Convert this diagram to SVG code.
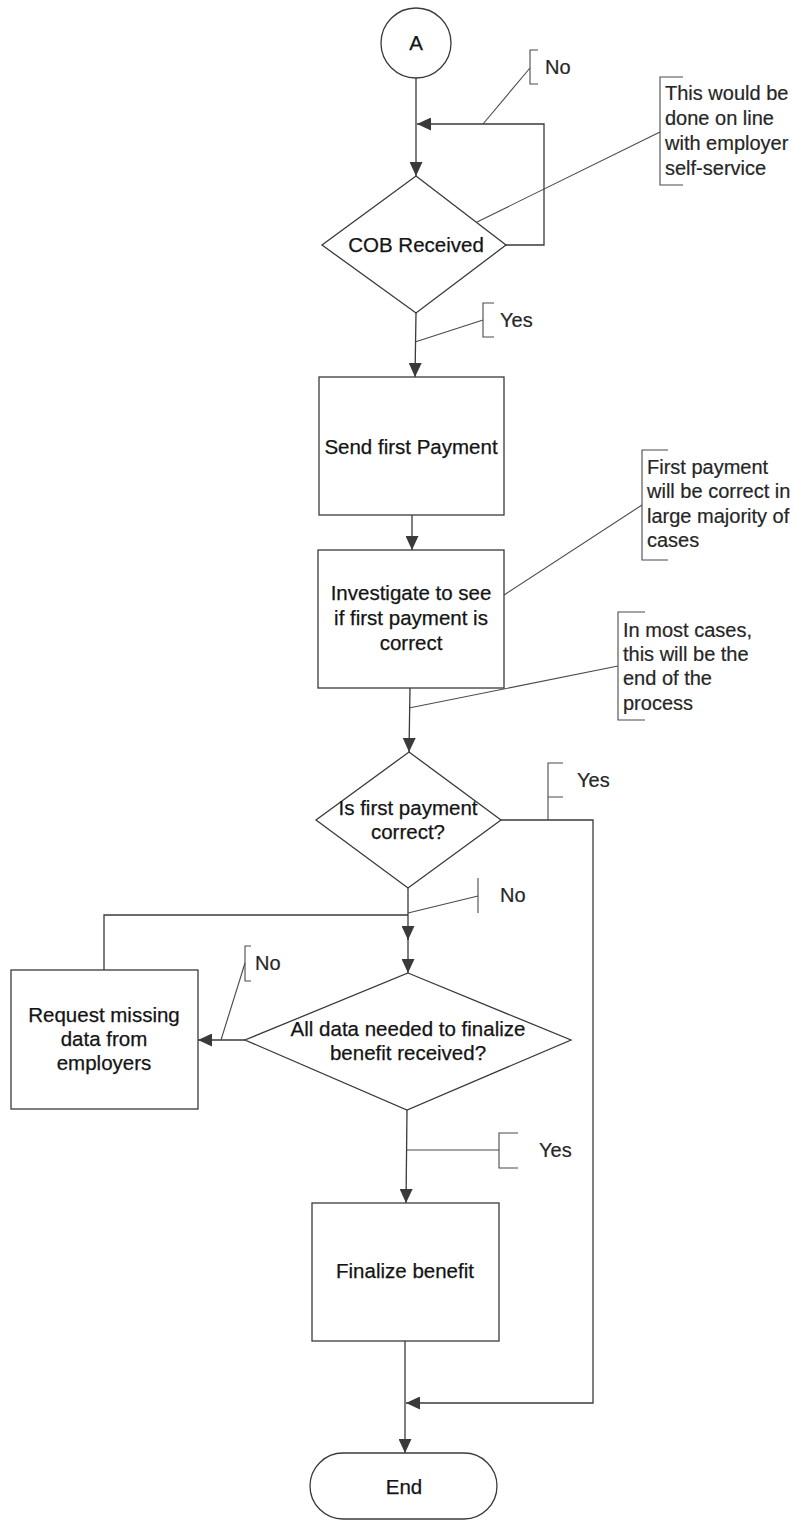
<svg xmlns="http://www.w3.org/2000/svg" width="794" height="1520" viewBox="0 0 794 1520">
  <defs>
    <marker id="arrow" markerUnits="userSpaceOnUse" markerWidth="15" markerHeight="13" refX="14" refY="6.5" orient="auto">
      <path d="M0,0 L14,6.5 L0,13 z" fill="#3a3a3a"/>
    </marker>
    <style>
      .shape { fill: #ffffff; stroke: #3a3a3a; stroke-width: 1.3; }
      .line { fill: none; stroke: #3a3a3a; stroke-width: 1.3; }
      .thin { fill: none; stroke: #4a4a4a; stroke-width: 1.1; }
      .lbl { font-family: "Liberation Sans", Arial, sans-serif; font-size: 20.5px; fill: #141414; text-anchor: middle; stroke: #141414; stroke-width: 0.25; }
      .note { font-family: "Liberation Sans", Arial, sans-serif; font-size: 20px; fill: #262626; stroke: #262626; stroke-width: 0.2; }
    </style>
  </defs>
  <rect width="794" height="1520" fill="#ffffff"/>

  <!-- flow connectors -->
  <g id="connectors">
    <path class="line" d="M416,78 L416,176" marker-end="url(#arrow)"/>
    <path class="line" d="M506,245 L544,245 L544,124 L417,124" marker-end="url(#arrow)"/>
    <path class="line" d="M416,313 L415,377" marker-end="url(#arrow)"/>
    <path class="line" d="M412,515 L412,550" marker-end="url(#arrow)"/>
    <path class="line" d="M410,688 L409,752" marker-end="url(#arrow)"/>
    <path class="line" d="M501,820 L593,820 L593,1403 L406,1403" marker-end="url(#arrow)"/>
    <path class="line" d="M408,888 L408,940" marker-end="url(#arrow)"/>
    <path class="line" d="M408,938 L408,973" marker-end="url(#arrow)"/>
    <path class="line" d="M104,970 L104,915 L408,915"/>
    <path class="line" d="M245,1040 L198,1040" marker-end="url(#arrow)"/>
    <path class="line" d="M407,1110 L406,1203" marker-end="url(#arrow)"/>
    <path class="line" d="M405,1341 L405,1453" marker-end="url(#arrow)"/>
  </g>

  <!-- branch labels and side notes with their leaders -->
  <g id="annotations">
    <path class="thin" d="M483,124 L530,68"/>
    <path class="thin" d="M538,50 L530,50 L530,84 L538,84"/>
    <text class="note" x="545" y="74">No</text>

    <path class="thin" d="M477,222 L660,132"/>
    <path class="thin" d="M683,77 L660,77 L660,185 L683,185"/>
    <text class="note" x="665" y="100">This would be</text>
    <text class="note" x="665" y="125">done on line</text>
    <text class="note" x="665" y="150">with employer</text>
    <text class="note" x="665" y="175">self-service</text>

    <path class="thin" d="M415,342 L483,320"/>
    <path class="thin" d="M494,303 L483,303 L483,337 L494,337"/>
    <text class="note" x="500" y="327">Yes</text>

    <path class="thin" d="M504,595 L642,505"/>
    <path class="thin" d="M668,450 L642,450 L642,560 L668,560"/>
    <text class="note" x="647" y="474">First payment</text>
    <text class="note" x="647" y="498">will be correct in</text>
    <text class="note" x="647" y="523">large majority of</text>
    <text class="note" x="647" y="547">cases</text>

    <path class="thin" d="M409,708 L618,666"/>
    <path class="thin" d="M645,612 L618,612 L618,720 L645,720"/>
    <text class="note" x="623" y="637">In most cases,</text>
    <text class="note" x="623" y="661">this will be the</text>
    <text class="note" x="623" y="685">end of the</text>
    <text class="note" x="623" y="710">process</text>

    <path class="thin" d="M563,763 L548,763 L548,820 M548,797 L563,797"/>
    <text class="note" x="577" y="787">Yes</text>

    <path class="thin" d="M408,913 L478,896"/>
    <path class="thin" d="M478,878 L478,913"/>
    <text class="note" x="500" y="902">No</text>

    <path class="thin" d="M221,1040 L245,963"/>
    <path class="thin" d="M251,946 L245,946 L245,981 L251,981"/>
    <text class="note" x="255" y="970">No</text>

    <path class="thin" d="M407,1150 L499,1150"/>
    <path class="thin" d="M518,1133 L499,1133 L499,1168 L518,1168"/>
    <text class="note" x="539" y="1157">Yes</text>
  </g>

  <!-- nodes -->
  <g id="start">
    <circle class="shape" cx="416" cy="43" r="35"/>
    <text class="lbl" x="416" y="50">A</text>
  </g>
  <g id="cob-received">
    <polygon class="shape" points="416,176 506,245 416,313 322,245"/>
    <text class="lbl" x="416" y="252">COB Received</text>
  </g>
  <g id="send-first-payment">
    <rect class="shape" x="319" y="377" width="185" height="138"/>
    <text class="lbl" x="411" y="454">Send first Payment</text>
  </g>
  <g id="investigate">
    <rect class="shape" x="318" y="550" width="186" height="138"/>
    <text class="lbl" x="411" y="600">Investigate to see</text>
    <text class="lbl" x="411" y="625">if first payment is</text>
    <text class="lbl" x="411" y="650">correct</text>
  </g>
  <g id="first-payment-correct">
    <polygon class="shape" points="409,752 501,820 408,888 316,820"/>
    <text class="lbl" x="408" y="815">Is first payment</text>
    <text class="lbl" x="408" y="839">correct?</text>
  </g>
  <g id="request-missing-data">
    <rect class="shape" x="11" y="970" width="187" height="139"/>
    <text class="lbl" x="104" y="1022">Request missing</text>
    <text class="lbl" x="104" y="1046">data from</text>
    <text class="lbl" x="104" y="1070">employers</text>
  </g>
  <g id="all-data-received">
    <polygon class="shape" points="408,973 571,1040 407,1110 245,1040"/>
    <text class="lbl" x="408" y="1036">All data needed to finalize</text>
    <text class="lbl" x="408" y="1060">benefit received?</text>
  </g>
  <g id="finalize-benefit">
    <rect class="shape" x="312" y="1203" width="187" height="138"/>
    <text class="lbl" x="405" y="1278">Finalize benefit</text>
  </g>
  <g id="end">
    <rect class="shape" x="310" y="1453" width="187" height="66" rx="33" ry="33"/>
    <text class="lbl" x="404" y="1494">End</text>
  </g>
</svg>
